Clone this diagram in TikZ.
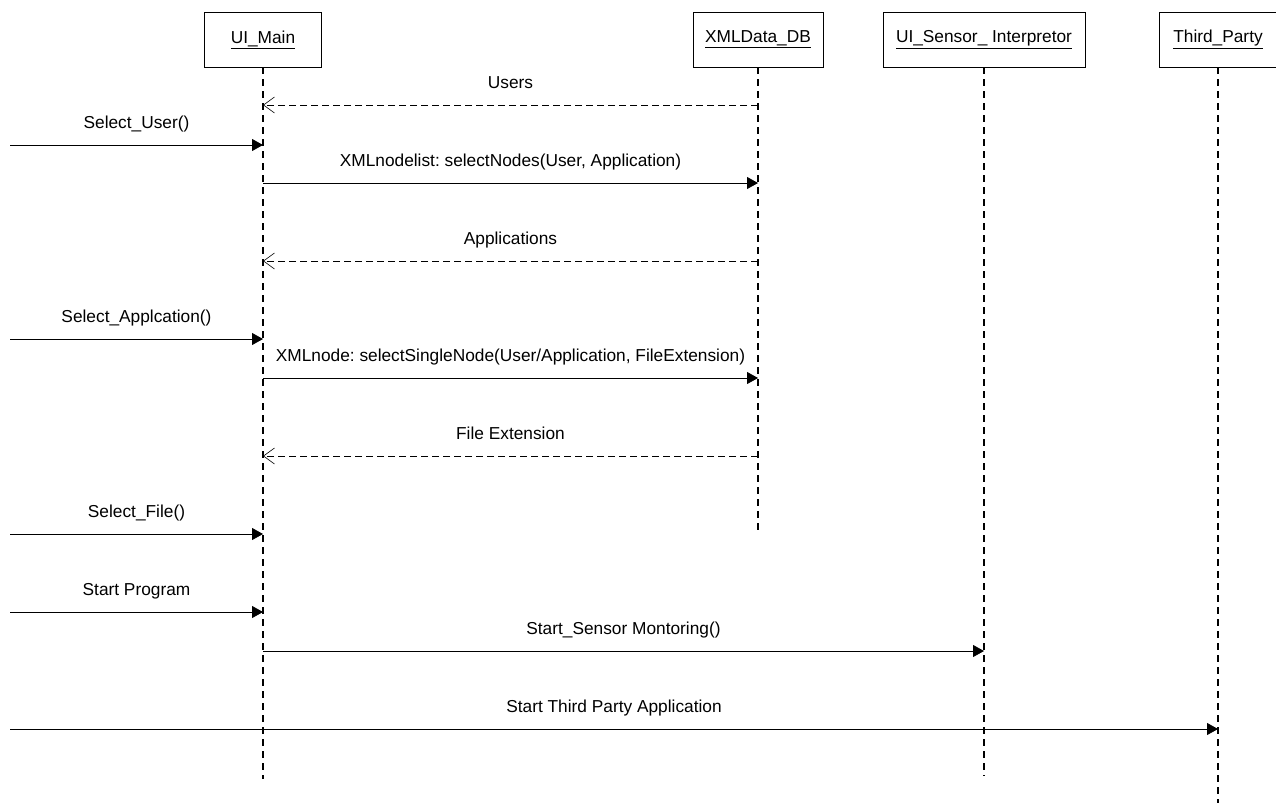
\documentclass[tikz,border=0pt]{standalone}
\usepackage{fontspec}
\setmainfont{Liberation Sans}
\usetikzlibrary{arrows.meta}
\frenchspacing
\begin{document}
\begin{tikzpicture}[x=1pt,y=-1pt,
  txt/.style={font=\fontsize{17.3}{20}\selectfont},
  obj/.style={draw, line width=0.9pt, minimum height=55pt, inner sep=0pt, txt},
  life/.style={line width=1.8pt, dash pattern=on 7pt off 5pt},
  call/.style={line width=0.8pt, -{Triangle[length=11pt,width=12pt]}},
  ret/.style={line width=0.9pt, dash pattern=on 7pt off 4pt,
    -{Straight Barb[length=11pt,width=16pt,line width=0.6pt]}},
  lbl/.style={txt, anchor=base, yshift=17pt, inner sep=0pt}
]
\useasboundingbox (0,0) rectangle (1276,803);

% objects
\node[obj, minimum width=117pt] (main)   at (263,39.5)  {\underline{UI\_Main}};
\node[obj, minimum width=130pt] (xml)    at (758,39.5)  {\underline{XMLData\_DB}};
\node[obj, minimum width=202pt] (sensor) at (984,39.5)  {\underline{UI\_Sensor\_ Interpretor}};
\node[obj, minimum width=117pt] (third)  at (1218,39.5) {\underline{Third\_Party}};

% lifeline ends
\coordinate (mainEnd)   at (263,779);
\coordinate (xmlEnd)    at (758,534);
\coordinate (sensorEnd) at (984,776);
\coordinate (thirdEnd)  at (1218,803);

\draw[life] (main.south)   -- (mainEnd);
\draw[life] (xml.south)    -- (xmlEnd);
\draw[life] (sensor.south) -- (sensorEnd);
\draw[life] (third.south)  -- (thirdEnd);

% message levels and gates at the left edge
\coordinate (y1) at (0,105);
\coordinate (g2) at (10,145);
\coordinate (y3) at (0,183);
\coordinate (y4) at (0,261);
\coordinate (g5) at (10,339);
\coordinate (y6) at (0,378);
\coordinate (y7) at (0,456);
\coordinate (g8) at (10,534);
\coordinate (g9) at (10,612);
\coordinate (y10) at (0,651);
\coordinate (g11) at (10,729);

% messages
\draw[ret]  (xml |- y1) -- node[lbl] {Users} (main |- y1);
\draw[call] (g2) -- node[lbl] {Select\_User()} (main |- g2);
\draw[call] (main |- y3) -- node[lbl] {XMLnodelist: selectNodes(User, Application)} (xml |- y3);
\draw[ret]  (xml |- y4) -- node[lbl] {Applications} (main |- y4);
\draw[call] (g5) -- node[lbl] {Select\_Applcation()} (main |- g5);
\draw[call] (main |- y6) -- node[lbl] {XMLnode: selectSingleNode(User/Application, FileExtension)} (xml |- y6);
\draw[ret]  (xml |- y7) -- node[lbl] {File Extension} (main |- y7);
\draw[call] (g8) -- node[lbl] {Select\_File()} (main |- g8);
\draw[call] (g9) -- node[lbl] {Start Program} (main |- g9);
\draw[call] (main |- y10) -- node[lbl] {Start\_Sensor Montoring()} (sensor |- y10);
\draw[call] (g11) -- node[lbl] {Start Third Party Application} (third |- g11);
\end{tikzpicture}
\end{document}
